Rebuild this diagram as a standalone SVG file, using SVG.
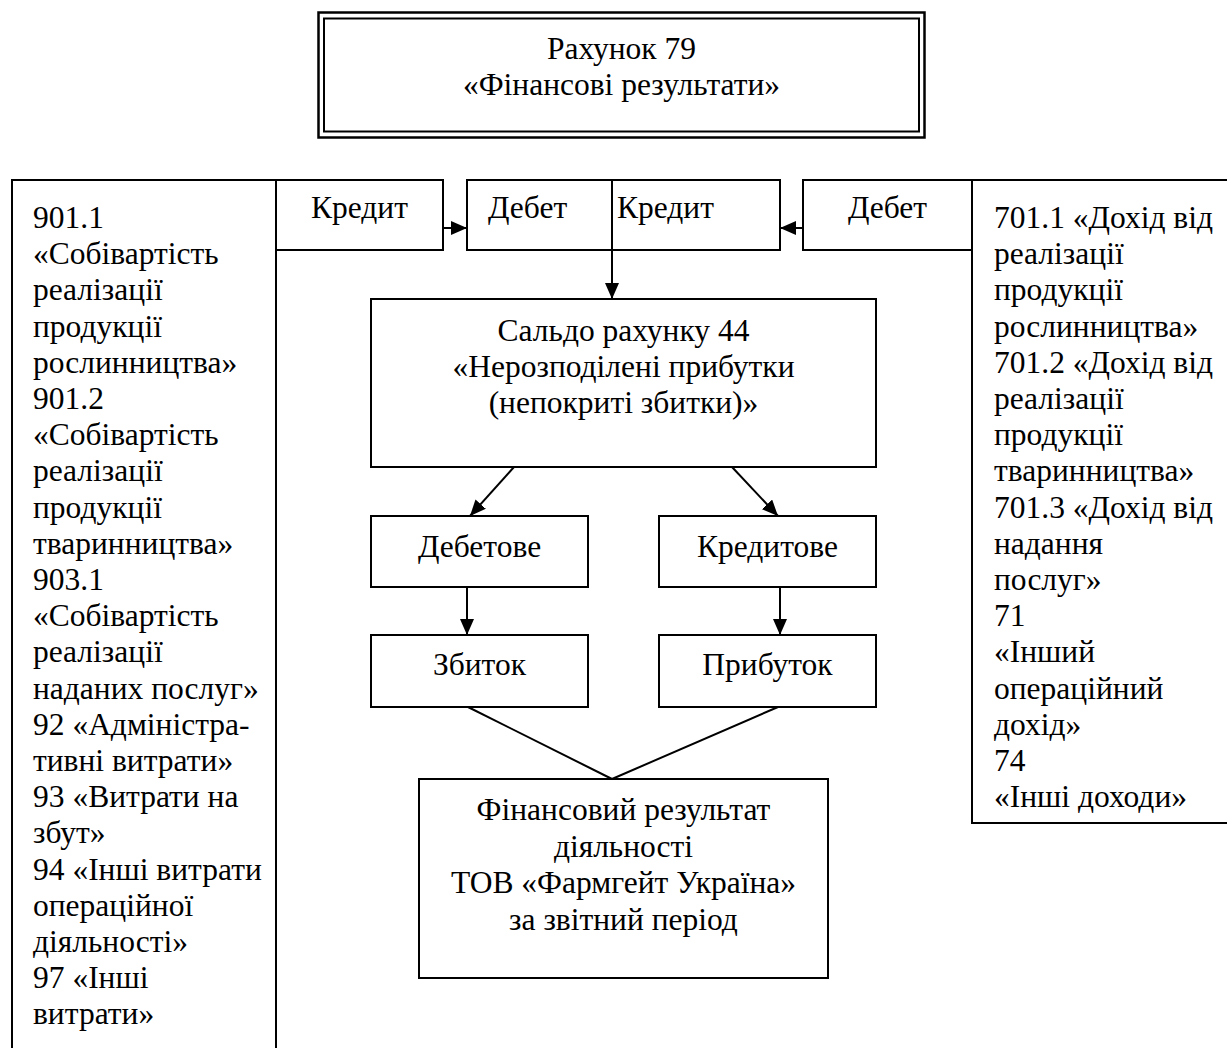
<svg xmlns="http://www.w3.org/2000/svg" width="1227" height="1048" viewBox="0 0 1227 1048">
<style>
.b{fill:#fff;stroke:#000;stroke-width:2}
.o{fill:none;stroke:#000;stroke-width:2}
.t{font-family:"Liberation Serif","Times New Roman",serif;font-size:31.5px;fill:#000}
.c{text-anchor:middle}
.l{stroke:#000;stroke-width:2;fill:none}
</style>
<defs>
<marker id="ah" markerUnits="userSpaceOnUse" markerWidth="16" markerHeight="14" viewBox="0 0 16 14" refX="16" refY="7" orient="auto">
<path d="M0,0 L16,7 L0,14 z" fill="#000"/>
</marker>
</defs>
<rect width="1227" height="1048" fill="#fff"/>

<g id="title">
<rect x="318.5" y="12.5" width="606" height="125" fill="#fff" stroke="#000" stroke-width="2.5"/>
<rect x="324" y="18.5" width="595" height="113" fill="none" stroke="#000" stroke-width="2"/>
<text class="t c" x="621.5" y="59">Рахунок 79</text>
<text class="t c" x="621.5" y="95">«Фінансові результати»</text>
</g>

<g id="left-list">
<path class="o" d="M12,1052 V180 H276 V1052"/>
<text class="t" x="33" y="228">901.1</text>
<text class="t" x="33" y="264.2">«Собівартість</text>
<text class="t" x="33" y="300.4">реалізації</text>
<text class="t" x="33" y="336.6">продукції</text>
<text class="t" x="33" y="372.8">рослинництва»</text>
<text class="t" x="33" y="409">901.2</text>
<text class="t" x="33" y="445.2">«Собівартість</text>
<text class="t" x="33" y="481.4">реалізації</text>
<text class="t" x="33" y="517.6">продукції</text>
<text class="t" x="33" y="553.8">тваринництва»</text>
<text class="t" x="33" y="590">903.1</text>
<text class="t" x="33" y="626.2">«Собівартість</text>
<text class="t" x="33" y="662.4">реалізації</text>
<text class="t" x="33" y="698.6">наданих послуг»</text>
<text class="t" x="33" y="734.8">92 «Адміністра-</text>
<text class="t" x="33" y="771">тивні витрати»</text>
<text class="t" x="33" y="807.2">93 «Витрати на</text>
<text class="t" x="33" y="843.4">збут»</text>
<text class="t" x="33" y="879.6">94 «Інші витрати</text>
<text class="t" x="33" y="915.8">операційної</text>
<text class="t" x="33" y="952">діяльності»</text>
<text class="t" x="33" y="988.2">97 «Інші</text>
<text class="t" x="33" y="1024.4">витрати»</text>
</g>

<g id="right-list">
<path class="o" d="M1230,180 H972 V823 H1230"/>
<text class="t" x="994" y="228">701.1 «Дохід від</text>
<text class="t" x="994" y="264.2">реалізації</text>
<text class="t" x="994" y="300.4">продукції</text>
<text class="t" x="994" y="336.6">рослинництва»</text>
<text class="t" x="994" y="372.8">701.2 «Дохід від</text>
<text class="t" x="994" y="409">реалізації</text>
<text class="t" x="994" y="445.2">продукції</text>
<text class="t" x="994" y="481.4">тваринництва»</text>
<text class="t" x="994" y="517.6">701.3 «Дохід від</text>
<text class="t" x="994" y="553.8">надання</text>
<text class="t" x="994" y="590">послуг»</text>
<text class="t" x="994" y="626.2">71</text>
<text class="t" x="994" y="662.4">«Інший</text>
<text class="t" x="994" y="698.6">операційний</text>
<text class="t" x="994" y="734.8">дохід»</text>
<text class="t" x="994" y="771">74</text>
<text class="t" x="994" y="807.2">«Інші доходи»</text>
</g>

<g id="credit-left">
<rect class="b" x="276" y="180" width="167" height="70"/>
<text class="t c" x="359.5" y="218">Кредит</text>
</g>

<g id="debit-credit">
<rect class="b" x="467" y="180" width="313" height="70"/>
<text class="t" x="488" y="218">Дебет</text>
<text class="t" x="617" y="218">Кредит</text>
</g>

<g id="debit-right">
<rect class="b" x="803" y="180" width="169" height="70"/>
<text class="t c" x="887.5" y="218">Дебет</text>
</g>

<g id="saldo">
<rect class="b" x="371" y="299" width="505" height="168"/>
<text class="t c" x="623.5" y="341">Сальдо рахунку 44</text>
<text class="t c" x="623.5" y="377">«Нерозподілені прибутки</text>
<text class="t c" x="623.5" y="413">(непокриті збитки)»</text>
</g>

<g id="debitove">
<rect class="b" x="371" y="516" width="217" height="71"/>
<text class="t c" x="479.5" y="557">Дебетове</text>
</g>

<g id="kredytove">
<rect class="b" x="659" y="516" width="217" height="71"/>
<text class="t c" x="767.5" y="557">Кредитове</text>
</g>

<g id="zbytok">
<rect class="b" x="371" y="635" width="217" height="72"/>
<text class="t c" x="479.5" y="675">Збиток</text>
</g>

<g id="prybutok">
<rect class="b" x="659" y="635" width="217" height="72"/>
<text class="t c" x="767.5" y="675">Прибуток</text>
</g>

<g id="result">
<rect class="b" x="419" y="779" width="409" height="199"/>
<text class="t c" x="623.5" y="820">Фінансовий результат</text>
<text class="t c" x="623.5" y="856.5">діяльності</text>
<text class="t c" x="623.5" y="893">ТОВ «Фармгейт Україна»</text>
<text class="t c" x="623.5" y="929.5">за звітний період</text>
</g>

<g id="connectors">
<line class="l" x1="443" y1="228" x2="467" y2="228" marker-end="url(#ah)"/>
<line class="l" x1="803" y1="228" x2="780" y2="228" marker-end="url(#ah)"/>
<line class="l" x1="612" y1="180" x2="612" y2="299" marker-end="url(#ah)"/>
<line class="l" x1="514" y1="467" x2="470" y2="516" marker-end="url(#ah)"/>
<line class="l" x1="732" y1="467" x2="778" y2="516" marker-end="url(#ah)"/>
<line class="l" x1="467" y1="587" x2="467" y2="635" marker-end="url(#ah)"/>
<line class="l" x1="780" y1="587" x2="780" y2="635" marker-end="url(#ah)"/>
<line class="l" x1="468" y1="707" x2="612" y2="779"/>
<line class="l" x1="778" y1="707" x2="612" y2="779"/>
</g>
</svg>
